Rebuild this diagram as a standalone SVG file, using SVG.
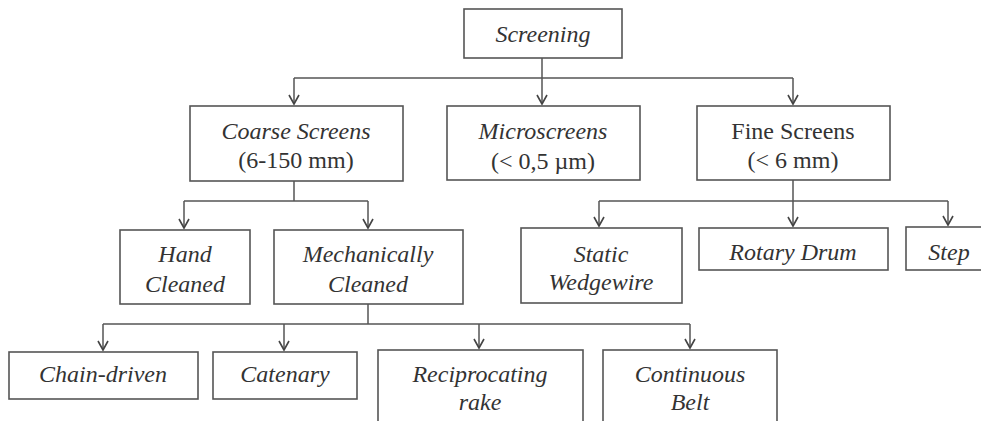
<svg xmlns="http://www.w3.org/2000/svg" width="981" height="421" viewBox="0 0 981 421">
<style>
.box{fill:#fff;stroke:#555;stroke-width:1.6}
text{font-family:"Liberation Serif","Times New Roman",Tinos,"DejaVu Serif",serif;font-size:24px;fill:#333;text-anchor:middle}
.i{font-style:italic}
.ln{fill:none;stroke:#555;stroke-width:1.5}
</style>
<defs>
<marker id="ah" markerUnits="userSpaceOnUse" markerWidth="14" markerHeight="14" viewBox="-11 -7 14 14" refX="0" refY="0" orient="auto">
<path d="M-9,-5 L0,0 L-9,5" fill="none" stroke="#444" stroke-width="1.6"/>
</marker>
</defs>
<rect width="981" height="421" fill="#fff"/>
<g id="connectors">
<path class="ln" d="M542,58 V78 M294,78 H793"/>
<path class="ln" d="M294,78 V104" marker-end="url(#ah)"/>
<path class="ln" d="M542,78 V104" marker-end="url(#ah)"/>
<path class="ln" d="M793,78 V104" marker-end="url(#ah)"/>
<path class="ln" d="M294,181 V201 M184,201 H368"/>
<path class="ln" d="M184,201 V228" marker-end="url(#ah)"/>
<path class="ln" d="M368,201 V228" marker-end="url(#ah)"/>
<path class="ln" d="M793,180 V201 M599,201 H948"/>
<path class="ln" d="M599,201 V226" marker-end="url(#ah)"/>
<path class="ln" d="M793,201 V226" marker-end="url(#ah)"/>
<path class="ln" d="M948,201 V225" marker-end="url(#ah)"/>
<path class="ln" d="M368,304 V324 M103,324 H690"/>
<path class="ln" d="M103,324 V350" marker-end="url(#ah)"/>
<path class="ln" d="M284,324 V350" marker-end="url(#ah)"/>
<path class="ln" d="M479,324 V348" marker-end="url(#ah)"/>
<path class="ln" d="M690,324 V348" marker-end="url(#ah)"/>
</g>
<g id="screening"><rect class="box" x="464" y="9" width="158" height="49"/><text class="i" x="543" y="42">Screening</text></g>
<g id="coarse"><rect class="box" x="190" y="106" width="213" height="75"/><text class="i" x="296" y="139">Coarse Screens</text><text x="296" y="168">(6-150 mm)</text></g>
<g id="micro"><rect class="box" x="447" y="106" width="193" height="74"/><text class="i" x="543" y="139">Microscreens</text><text x="543" y="169">(&lt; 0,5 µm)</text></g>
<g id="fine"><rect class="box" x="697" y="106" width="193" height="74"/><text x="793" y="139">Fine Screens</text><text x="793" y="168">(&lt; 6 mm)</text></g>
<g id="hand"><rect class="box" x="120" y="230" width="130" height="74"/><text class="i" x="185" y="262">Hand</text><text class="i" x="185" y="292">Cleaned</text></g>
<g id="mech"><rect class="box" x="274" y="230" width="189" height="74"/><text class="i" x="368" y="262">Mechanically</text><text class="i" x="368" y="292">Cleaned</text></g>
<g id="static"><rect class="box" x="521" y="228" width="161" height="75"/><text class="i" x="601" y="262">Static</text><text class="i" x="601" y="290">Wedgewire</text></g>
<g id="rotary"><rect class="box" x="699" y="228" width="189" height="42"/><text class="i" x="793" y="260">Rotary Drum</text></g>
<g id="step"><rect class="box" x="906" y="227" width="90" height="43"/><text class="i" x="949" y="260">Step</text></g>
<g id="chain"><rect class="box" x="9" y="352" width="189" height="47"/><text class="i" x="103" y="382">Chain-driven</text></g>
<g id="catenary"><rect class="box" x="213" y="352" width="144" height="47"/><text class="i" x="285" y="382">Catenary</text></g>
<g id="recip"><rect class="box" x="378" y="350" width="205" height="80"/><text class="i" x="480" y="382">Reciprocating</text><text class="i" x="480" y="410">rake</text></g>
<g id="belt"><rect class="box" x="603" y="350" width="174" height="80"/><text class="i" x="690" y="382">Continuous</text><text class="i" x="690" y="410">Belt</text></g>
</svg>
